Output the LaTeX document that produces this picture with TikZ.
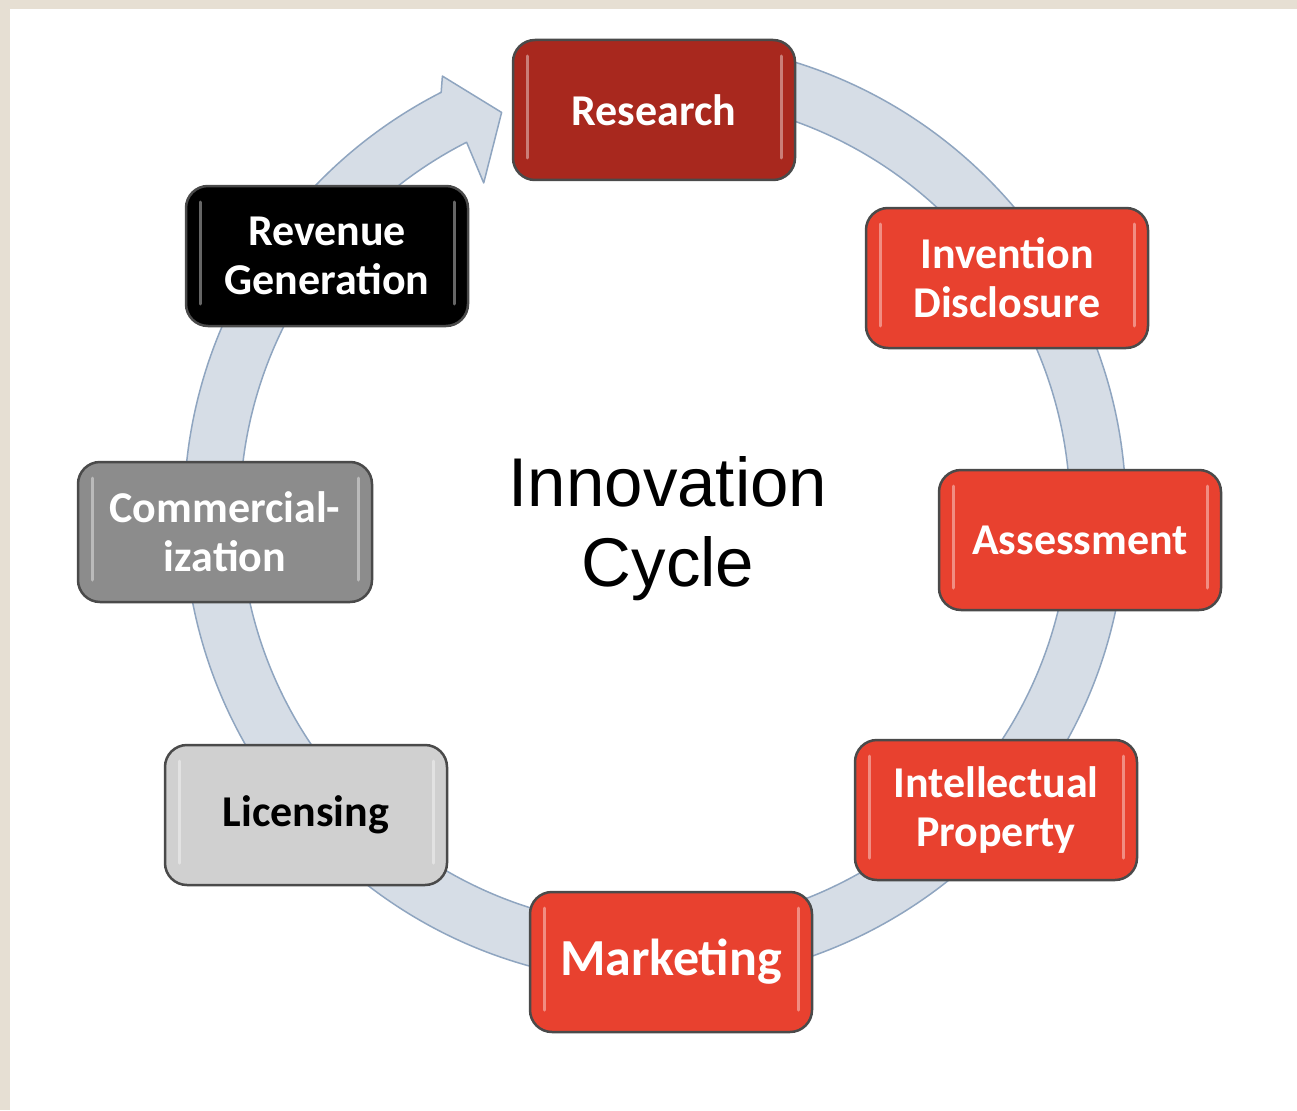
\documentclass[tikz,border=0pt]{standalone}
\usepackage{fontspec}
\usepackage{tikz}
\usetikzlibrary{calc}
\newfontfamily\stagefont{Carlito}
\newfontfamily\titlefont{Liberation Sans}
\definecolor{PaperBeige}{HTML}{E6DFD3}
\definecolor{RingFill}{HTML}{D6DDE6}
\definecolor{RingLine}{HTML}{8FA5C0}
\definecolor{BoxLine}{HTML}{4A4A4A}
\definecolor{DeepRed}{HTML}{A8281E}
\definecolor{BrightRed}{HTML}{E8412F}
\definecolor{MidGray}{HTML}{8C8C8C}
\definecolor{LightGray}{HTML}{D0D0D0}

\begin{document}
\begin{tikzpicture}[x=1pt, y=1pt,
    stage/.style={draw=BoxLine, line width=2.5pt, rounded corners=22pt,
        minimum width=282pt, minimum height=140pt, align=center, text=white,
        font={\stagefont\bfseries\fontsize{44}{49}\selectfont},
        path picture={
            \draw[white, opacity=0.4, line width=3pt, line cap=round]
                ([xshift=14pt,yshift=-16pt]path picture bounding box.north west) --
                ([xshift=14pt,yshift=22pt]path picture bounding box.south west)
                ([xshift=-14pt,yshift=-16pt]path picture bounding box.north east) --
                ([xshift=-14pt,yshift=22pt]path picture bounding box.south east);
        }},
    ring/.style={fill=RingFill, draw=RingLine, line width=1.5pt, line join=round}]

    % Paper and panel
    \fill[PaperBeige] (0,0) rectangle (1297,-1110);
    \fill[white] (10,-9) rectangle (1297,-1110);
    \useasboundingbox (0,0) rectangle (1297,-1110);

    % Cycle ring with arrow head
    \coordinate (hub) at (655,-512);
    \draw[ring] ($(hub)+(85:471pt)$) arc[start angle=85, end angle=-243, radius=471pt]
        -- ($(hub)+(-244:485pt)$) -- ($(hub)+(-249:428pt)$) -- ($(hub)+(-242.5:371pt)$)
        -- ($(hub)+(-243:415pt)$) arc[start angle=-243, end angle=85, radius=415pt] -- cycle;

    % Stages
    \node[stage, fill=DeepRed] (research) at (654,-110) {Research};
    \node[stage, fill=BrightRed] (invention) at (1007,-278) {Invention\\Disclosure};
    \node[stage, fill=BrightRed] (assessment) at (1080,-540) {Assessment};
    \node[stage, fill=BrightRed] (property) at (996,-810) {Intellectual\\Property};
    \node[stage, fill=BrightRed, font={\stagefont\bfseries\fontsize{52}{58}\selectfont}]
        (marketing) at (671,-962) {Marketing};
    \node[stage, fill=LightGray, text=black] (licensing) at (306,-815) {Licensing};
    \node[stage, fill=MidGray, minimum width=294pt] (commercial) at (225,-532) {Commercial-\\ization};
    \node[stage, fill=black] (revenue) at (327,-256) {Revenue\\Generation};

    % Title
    \node[align=center, font={\titlefont\fontsize{69}{80}\selectfont}] (title) at (668,-529)
        {Innovation\\Cycle};
\end{tikzpicture}
\end{document}
